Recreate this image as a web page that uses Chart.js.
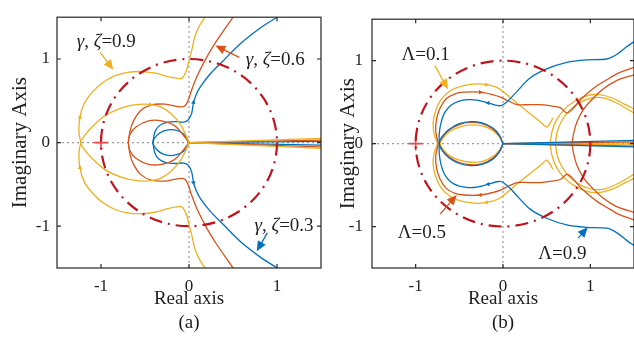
<!DOCTYPE html>
<html>
<head>
<meta charset="utf-8">
<script src="https://cdn.jsdelivr.net/npm/chart.js@4.4.0/dist/chart.umd.min.js"></script>
<style>
  html, body { margin:0; padding:0; background:#fff; }
  #wrap { position:relative; width:634px; height:341px; overflow:hidden; font-family:"Liberation Serif","Times New Roman",serif; }
  #chartA { position:absolute; left:0; top:0; }
  #chartB { position:absolute; left:323px; top:0; }
  .cap { position:absolute; top:311px; width:60px; text-align:center; font-size:19px; line-height:22px; color:#1a1a1a; }
</style>
</head>
<body>
<div id="wrap">
  <canvas id="chartA" width="330" height="315"></canvas>
  <canvas id="chartB" width="311" height="315"></canvas>
  <div class="cap" style="left:159px">(a)</div>
  <div class="cap" style="left:473px">(b)</div>
</div>
<script>
// ---- data (upper half of each locus; loci are conjugate-symmetric) ----
var tickValues = [-1, 0, 1];
var unitRadius = 1;
var zeroH = [[-1.5, 0], [1.5, 0]];
var zeroV = [[0, -1.5], [0, 1.5]];
var crossPoint = [[-1, 0]];

// (a) gamma, zeta sweep
var aBlueLoop = [[0,0],[-0.04,0.08],[-0.1,0.13],[-0.2,0.155],[-0.3,0.135],[-0.37,0.08],[-0.41,0]];
var aBlueBranch = [[-0.41,0],[-0.39,0.12],[-0.34,0.2],[-0.26,0.24],[-0.15,0.25],[-0.06,0.245],[-0.01,0.27],[0.03,0.35],[0.05,0.47],[0.08,0.57],[0.125,0.66],[0.24,0.82],[0.39,0.98],[0.58,1.18],[0.81,1.37],[1.0,1.5],[1.05,1.54]];
var aOrangeLoop = [[0,0],[-0.05,0.07],[-0.16,0.2],[-0.31,0.26],[-0.46,0.26],[-0.6,0.19],[-0.67,0.1],[-0.69,0]];
var aOrangeBranch = [[-0.69,0],[-0.67,0.14],[-0.63,0.26],[-0.55,0.38],[-0.43,0.45],[-0.27,0.46],[-0.12,0.43],[-0.06,0.43],[-0.03,0.46],[0.0,0.53],[0.02,0.6],[0.09,0.79],[0.2,1.02],[0.31,1.21],[0.5,1.5],[0.53,1.55]];
var aYellowLoop = [[0,0],[-0.04,0.1],[-0.1,0.22],[-0.21,0.35],[-0.33,0.43],[-0.48,0.46],[-0.63,0.45],[-0.78,0.41],[-0.96,0.32],[-1.1,0.19],[-1.19,0.08],[-1.23,0]];
var aYellowBranch = [[-1.23,0],[-1.25,0.12],[-1.24,0.3],[-1.19,0.47],[-1.1,0.6],[-0.99,0.71],[-0.84,0.8],[-0.7,0.84],[-0.54,0.85],[-0.38,0.83],[-0.24,0.79],[-0.14,0.77],[-0.08,0.77],[-0.03,0.86],[0.0,0.98],[0.03,1.1],[0.07,1.28],[0.12,1.4],[0.18,1.5],[0.2,1.55]];
var aBlueAxis = [[[0,0],[1.5,0.015]], [[0,0],[1.5,-0.03]]];
var aOrangeAxis = [[[0,0],[1.5,0.03]], [[0,0],[1.5,-0.05]]];
var aYellowAxis = [[[0,0],[1.5,0.05]], [[0,0],[1.5,-0.07]]];
// direction markers on the loci: x, y, heading in degrees (0 = up)
var aBlueMarks = [[0.05,0.48,10],[0.05,-0.48,170]];
var aYellowMarks = [[-1.24,0.3,0],[-1.24,-0.3,0],[-0.44,0.455,90]];

// (b) Lambda sweep
var bBlueLoop = [[0,0],[-0.04,0.1],[-0.12,0.19],[-0.24,0.25],[-0.37,0.265],[-0.5,0.24],[-0.62,0.17],[-0.7,0.08],[-0.73,0]];
var bOrangeLoop = [[0,0],[-0.04,0.09],[-0.12,0.18],[-0.24,0.24],[-0.37,0.255],[-0.5,0.23],[-0.62,0.16],[-0.7,0.07],[-0.73,0]];
var bYellowLoop = [[0,0],[-0.04,0.08],[-0.12,0.16],[-0.24,0.215],[-0.37,0.225],[-0.5,0.2],[-0.62,0.14],[-0.69,0.06],[-0.72,0]];
var bBlueBranch = [[-0.73,0],[-0.73,0.12],[-0.71,0.25],[-0.67,0.37],[-0.6,0.46],[-0.51,0.51],[-0.4,0.53],[-0.3,0.525],[-0.17,0.49],[-0.07,0.46],[-0.015,0.46],[0.04,0.5],[0.1,0.56],[0.16,0.63],[0.31,0.79],[0.5,0.9],[0.73,0.98],[0.96,1.01],[1.19,1.02],[1.31,1.08],[1.42,1.17],[1.5,1.23]];
var bOrangeBranch = [[-0.74,0],[-0.77,0.15],[-0.76,0.3],[-0.72,0.43],[-0.65,0.54],[-0.55,0.6],[-0.45,0.62],[-0.26,0.62],[-0.12,0.59],[-0.03,0.56],[0.05,0.52],[0.16,0.47],[0.3,0.47],[0.43,0.47],[0.58,0.45],[0.66,0.43],[0.73,0.37],[0.79,0.41],[0.87,0.51],[0.96,0.6],[1.08,0.7],[1.19,0.77],[1.32,0.85],[1.5,0.92]];
var bYellowBranch = [[-0.75,0],[-0.79,0.12],[-0.8,0.25],[-0.77,0.4],[-0.71,0.53],[-0.6,0.64],[-0.45,0.7],[-0.3,0.72],[-0.19,0.71],[-0.08,0.68],[-0.015,0.64],[0.08,0.56],[0.18,0.47],[0.3,0.37],[0.43,0.26],[0.5,0.2],[0.54,0.25],[0.57,0.31]];
var bYellowCircle1 = [[0.54,0],[0.56,0.14],[0.61,0.28],[0.7,0.41],[0.82,0.51],[0.97,0.58],[1.1,0.59],[1.25,0.55],[1.4,0.47],[1.5,0.42]];
var bYellowCircle2 = [[0.6,0],[0.62,0.14],[0.67,0.27],[0.76,0.4],[0.89,0.5],[1.02,0.55],[1.15,0.55],[1.3,0.49],[1.5,0.37]];
var bOrangeCircle = [[0.79,0],[0.81,0.13],[0.85,0.27],[0.92,0.41],[1.0,0.51],[1.15,0.66],[1.3,0.76],[1.5,0.83]];
var bBlueAxis = [[[0,0],[1.5,0.04]], [[0,0],[1.5,-0.04]]];
var bOrangeAxis = [[[0,0],[1.5,0.02]], [[0,0],[1.5,-0.03]]];
var bYellowAxis = [[[0,0],[1.5,0.01]], [[0,0],[1.5,-0.015]]];
var bBlueMarks = [[-0.17,0.49,-90],[-0.17,-0.49,-90]];
var bOrangeMarks = [[-0.26,0.62,90],[-0.26,-0.62,-90]];
var bYellowMarks = [[-0.19,0.71,90],[-0.19,-0.71,-90]];

var blue = '#0072BD', orange = '#D95319', yellow = '#EDB120';
var circleColor = '#C0141C', crossColor = '#F0484A', ink = '#1f1f1f';
var serif = '"Liberation Serif","Times New Roman",serif';

// label text, label centre, arrow tail, arrow head (data coords)
var notesA = [
  {parts:[['γ',1],[', ',0],['ζ',1],['=0.9',0]], at:[-0.94,1.2], from:[-1.01,1.08], to:[-0.86,0.87], color:yellow},
  {parts:[['γ',1],[', ',0],['ζ',1],['=0.6',0]], at:[0.98,0.99], from:[0.57,1.02], to:[0.3,1.16], color:orange},
  {parts:[['γ',1],[', ',0],['ζ',1],['=0.3',0]], at:[1.08,-1.0], from:[0.89,-1.08], to:[0.77,-1.3], color:blue}
];
var notesB = [
  {parts:[['Λ=0.1',0]], at:[-0.885,1.07], from:[-0.78,0.94], to:[-0.63,0.655], color:yellow},
  {parts:[['Λ=0.5',0]], at:[-0.93,-1.08], from:[-0.72,-0.85], to:[-0.53,-0.62], color:orange},
  {parts:[['Λ=0.9',0]], at:[0.68,-1.33], from:[0.86,-1.14], to:[0.97,-1.01], color:blue}
];

// ---- helpers ----
function pts(a){ return a.map(function(p){ return {x:p[0], y:p[1]}; }); }
function mirror(a){ return a.map(function(p){ return [p[0], -p[1]]; }); }
function line(a, color, extra){
  var d = {data:pts(a), borderColor:color, borderWidth:1.3, showLine:true, pointRadius:0, tension:0.3, fill:false};
  if(extra) for(var k in extra) d[k] = extra[k];
  return d;
}
function loop(a, color){ return [line(a.concat(mirror(a).reverse().slice(1)), color)]; }
function branch(a, color){ return [line(a, color), line(mirror(a), color)]; }
function rays(list, color){ return list.map(function(r){ return line(r, color, {tension:0}); }); }
function marks(list, color){
  return [{data:pts(list), showLine:false, pointStyle:'triangle', pointRadius:2.6, borderWidth:0,
           backgroundColor:color, borderColor:color,
           rotation:function(c){ return list[c.dataIndex] ? list[c.dataIndex][2] : 0; }}];
}
function guides(){
  return [line(zeroH, '#9a9a9a', {borderDash:[2,3], borderWidth:1.2, tension:0}),
          line(zeroV, '#9a9a9a', {borderDash:[2,3], borderWidth:1.2, tension:0})];
}
function cross(){
  return [{data:pts(crossPoint), showLine:false, pointStyle:'cross', pointRadius:7, borderWidth:1.6, borderColor:crossColor}];
}

var decor = {
  id:'decor',
  afterDatasetsDraw: function(chart){
    var ctx = chart.ctx, a = chart.chartArea, x = chart.scales.x, y = chart.scales.y;
    ctx.save();
    ctx.beginPath(); ctx.rect(a.left, a.top, a.right - a.left, a.bottom - a.top); ctx.clip();
    var cx = x.getPixelForValue(0), cy = y.getPixelForValue(0);
    var rx = x.getPixelForValue(unitRadius) - cx, ry = cy - y.getPixelForValue(unitRadius);
    ctx.strokeStyle = circleColor; ctx.lineWidth = 2.2; ctx.setLineDash([13,6,2,6]);
    ctx.beginPath(); ctx.ellipse(cx, cy, rx, ry, 0, 0, Math.PI*2); ctx.stroke();
    ctx.restore();
  },
  afterDraw: function(chart, args, opts){
    var ctx = chart.ctx, a = chart.chartArea, x = chart.scales.x, y = chart.scales.y;
    ctx.save();
    ctx.strokeStyle = '#262626'; ctx.lineWidth = 1.2;
    ctx.strokeRect(a.left, a.top, a.right - a.left, a.bottom - a.top);
    tickValues.forEach(function(v){
      var px = x.getPixelForValue(v), py = y.getPixelForValue(v);
      ctx.beginPath();
      ctx.moveTo(px, a.bottom); ctx.lineTo(px, a.bottom - 4);
      ctx.moveTo(px, a.top); ctx.lineTo(px, a.top + 4);
      ctx.moveTo(a.left, py); ctx.lineTo(a.left + 4, py);
      ctx.moveTo(a.right, py); ctx.lineTo(a.right - 4, py);
      ctx.stroke();
    });
    // annotations
    (opts.notes || []).forEach(function(n){
      var fx = x.getPixelForValue(n.from[0]), fy = y.getPixelForValue(n.from[1]);
      var tx = x.getPixelForValue(n.to[0]), ty = y.getPixelForValue(n.to[1]);
      var ang = Math.atan2(ty - fy, tx - fx), L = 10, W = 4.5;
      ctx.strokeStyle = n.color; ctx.fillStyle = n.color; ctx.lineWidth = 1.3;
      ctx.beginPath(); ctx.moveTo(fx, fy);
      ctx.lineTo(tx - L*0.8*Math.cos(ang), ty - L*0.8*Math.sin(ang)); ctx.stroke();
      ctx.beginPath();
      ctx.moveTo(tx, ty);
      ctx.lineTo(tx - L*Math.cos(ang) + W*Math.sin(ang), ty - L*Math.sin(ang) - W*Math.cos(ang));
      ctx.lineTo(tx - L*Math.cos(ang) - W*Math.sin(ang), ty - L*Math.sin(ang) + W*Math.cos(ang));
      ctx.closePath(); ctx.fill();
      var fonts = n.parts.map(function(p){ return (p[1] ? 'italic ' : '') + '19px ' + serif; });
      var w = 0;
      n.parts.forEach(function(p, i){ ctx.font = fonts[i]; w += ctx.measureText(p[0]).width; });
      var sx = x.getPixelForValue(n.at[0]) - w/2, sy = y.getPixelForValue(n.at[1]);
      ctx.fillStyle = ink; ctx.textBaseline = 'middle'; ctx.textAlign = 'left';
      n.parts.forEach(function(p, i){ ctx.font = fonts[i]; ctx.fillText(p[0], sx, sy); sx += ctx.measureText(p[0]).width; });
    });
    ctx.restore();
  }
};

function options(yWidth, yTickPad, yTitlePad, padRight, notes){
  return {
    responsive:false, animation:false, devicePixelRatio:1,
    layout:{autoPadding:false, padding:{left:0, right:padRight, top:10, bottom:0}},
    plugins:{legend:{display:false}, tooltip:{enabled:false}, decor:{notes:notes}},
    scales:{
      x:{type:'linear', min:-1.5, max:1.5,
         grid:{display:false, drawTicks:false}, border:{display:false},
         afterBuildTicks:function(s){ s.ticks = tickValues.map(function(v){ return {value:v}; }); },
         afterFit:function(s){ s.height = 47; },
         ticks:{padding:8, color:ink, font:{family:serif, size:17}, maxRotation:0, callback:function(v){ return String(v); }},
         title:{display:true, text:'Real axis', color:ink, font:{family:serif, size:19}, padding:{top:0, bottom:5}}},
      y:{type:'linear', min:-1.5, max:1.5,
         grid:{display:false, drawTicks:false}, border:{display:false},
         afterBuildTicks:function(s){ s.ticks = tickValues.map(function(v){ return {value:v}; }); },
         afterFit:function(s){ s.width = yWidth; },
         ticks:{padding:yTickPad, color:ink, font:{family:serif, size:17}, callback:function(v){ return String(v); }},
         title:{display:true, text:'Imaginary Axis', color:ink, font:{family:serif, size:21}, padding:{top:yTitlePad, bottom:0}}}
    }
  };
}

// bottom-to-top, reversed so the last listed is drawn on top
var dsA = [].concat(
  guides(),
  rays(aBlueAxis, blue), loop(aBlueLoop, blue), branch(aBlueBranch, blue), marks(aBlueMarks, blue),
  rays(aOrangeAxis, orange), loop(aOrangeLoop, orange), branch(aOrangeBranch, orange),
  rays(aYellowAxis, yellow), loop(aYellowLoop, yellow), branch(aYellowBranch, yellow), marks(aYellowMarks, yellow),
  cross()
).reverse();

var dsB = [].concat(
  guides(),
  rays(bYellowAxis, yellow), loop(bYellowLoop, yellow), branch(bYellowBranch, yellow),
  branch(bYellowCircle1, yellow), branch(bYellowCircle2, yellow), marks(bYellowMarks, yellow),
  rays(bOrangeAxis, orange), loop(bOrangeLoop, orange), branch(bOrangeBranch, orange), branch(bOrangeCircle, orange), marks(bOrangeMarks, orange),
  rays(bBlueAxis, blue), loop(bBlueLoop, blue), branch(bBlueBranch, blue), marks(bBlueMarks, blue),
  cross()
).reverse();

new Chart(document.getElementById('chartA'), {type:'scatter', data:{datasets:dsA}, options:options(57, 7, 8, 9, notesA), plugins:[decor]});
new Chart(document.getElementById('chartB'), {type:'scatter', data:{datasets:dsB}, options:options(49, 9, 13, 0, notesB), plugins:[decor]});
</script>
</body>
</html>
